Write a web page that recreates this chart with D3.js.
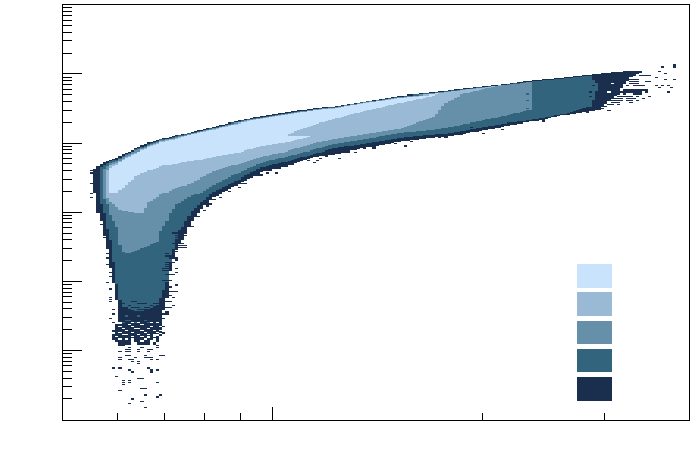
<!DOCTYPE html>
<html>
<head>
<meta charset="utf-8">
<style>html,body{margin:0;padding:0;background:#fff}svg{display:block}</style>
<script src="https://cdnjs.cloudflare.com/ajax/libs/d3/7.8.5/d3.min.js"></script>
</head>
<body>
<svg id="chart" width="696" height="472"></svg>
<script>
// ---- axis values ----
const xDomain = [5, 39.6];
const yDomain = [1, 1e6];
const xMajorTicks = [10];
const xMinorTicks = [6, 7, 8, 9, 20, 30];
const yMajorTicks = [1e1, 1e2, 1e3, 1e4, 1e5];
const yMinorFactors = [2, 3, 4, 5, 6, 7, 8, 9];
const yDecades = [1, 1e1, 1e2, 1e3, 1e4, 1e5];
const binCount = 200;

// ---- contour edges of the 2D histogram, read as bin numbers per x bin ----
const binColumns = [
 10,11,12,13,14,15,17,18,19,21,
 23,25,27,30,31,33,34,36,39,41,
 44,48,52,57,63,71,79,80,86,97,
 108,118,122,127,131,140,149,150,159,168,
 171,176,181,184];
const darkTop = [
 120.3,121.8,123.2,124.2,124.6,125.1,126.1,127,128,129,
 130.4,131.9,133.3,134.3,135.2,135.7,136.2,136.9,137.7,138.6,
 139.6,141,142.5,144.2,145.8,147.8,149.7,150,150.7,153.5,
 156,157.4,158.1,159.2,159.8,161.3,163.2,163.4,164.6,166.1,
 166.6,167.5,168,168];
const darkBottom = [
 109,99.6,95.3,89,81.8,73.1,57.7,47,46,46,
 46,46,46,46,46,58.7,72.1,81.8,89.5,95.3,
 101.5,106.8,110.2,114.5,118.9,121.8,126.1,126.4,127.5,130.9,
 133.8,135.7,136.2,137.2,138.6,141,143.4,143.4,146.3,148.3,
 149.2,156,165,167];
const tealTop = [
 114,114,121.3,122.7,123.7,124.6,125.1,126.1,127,128.5,
 129.9,130.9,132.4,133.8,134.8,135.2,135.7,136.5,137.3,138.2,
 139.2,140.6,142.1,143.8,145.4,147.3,149.2,149.6,150.4,153.3,
 155.7,157.2,157.9,158.8,159.6,161,162.7,162.9,164.1,165.6,
 160,160,160,160];
const tealBottom = [
 114,114,103.4,99.6,91.4,86.6,64.9,57.7,54,52.5,
 52,52,53,55,58.7,65.9,76,86.6,95.3,100.6,
 104.4,109.7,112.6,116.5,121.3,124.2,127.5,127.9,130.4,132.8,
 135.7,137.2,137.7,138.8,140.1,142.5,144,144.4,146.8,150.7,
 160,160,160,160];
const steelTop = [
 114,114,114,120.3,121.8,123.7,124.6,125.6,126.6,128,
 129.5,130.4,131.9,133.3,134.3,134.8,135.2,135.9,137,137.9,
 138.9,140.3,141.8,143.5,145.1,147,149,149.4,150.2,153.1,
 155.5,156.9,157.6,158.6,159.3,160.8,162.5,155,155,155,
 155,155,155,155];
const steelBottom = [
 114,114,114,105.9,103.4,98.6,92.4,84.2,80.3,79.9,
 80.8,82.3,83.7,85.6,90.4,95.3,99.6,103.4,105.9,107.8,
 109.2,113.1,116,119.3,123.7,126.6,129.5,129.9,132.4,135.2,
 138.1,139.6,140.5,142,143.1,145.8,149.2,155,155,155,
 155,155,155,155];
const lightTop = [
 113,113,113,113,119.8,122.7,123.7,124.6,125.6,127,
 128.5,129.9,131.4,132.8,133.8,134.3,134.8,135.5,136.7,137.6,
 138.6,140,141.5,143.2,144.9,146.8,148.7,149.1,149.9,152.8,
 155.2,156.7,157.4,158.4,159.1,161,161,161,161,161,
 161,161,161,161];
const lightBottom = [
 113,113,113,113,106.3,104.4,102.5,101,100.6,100.1,
 99.6,99.6,104.4,106.8,108.3,109.2,110.2,111.6,112.6,114,
 116.5,119.3,121.3,123.7,126.6,129,132.4,133,134.8,137.7,
 140.5,145.4,152.6,156.4,157.9,161,161,161,161,161,
 161,161,161,161];
const paleTop = [
 116,116,116,116,116,120.8,122.7,124.2,125.1,126.6,
 128,129.5,130.9,132.4,133.3,133.8,134.3,135.1,136.4,137.3,
 138.3,139.7,141.2,142.9,144.6,146.6,148.5,148.9,149.7,152.6,
 155,156.4,158,158,158,158,158,158,158,158,
 158,158,158,158];
const paleBottom = [
 116,116,116,116,116,109.2,109.2,110.7,111.6,114.5,
 116.9,118.4,119.8,120.8,121.8,122.7,122.7,123.2,124.2,124.6,
 125.1,126.6,127.5,129,131.4,133.3,136.2,142,144.4,148.9,
 152.6,156,158,158,158,158,158,158,158,158,
 158,158,158,158];
// small light sliver cut into the pale region
const sliverColumns = [71,74,77,80];
const sliverTop = [136.7,138.8,140.4,142];
const sliverBottom = [136.7,136.5,136.4,136];

// ---- isolated occupied bins [xBin, yBin] ----
const tailCells = [
 [18,35],[19,35],[30,35],[21,34],[25,34],[30,34],[20,33],[21,33],[24,33],[27,33],[28,33],
 [18,32],[20,32],[21,32],[24,32],[27,32],[20,30],[21,30],[26,30],[31,30],[32,30],
 [18,29],[23,29],[26,29],[27,29],[28,29],[18,28],[21,28],[22,28],[28,28],[30,28],
 [22,27],[24,27],[24,26],[16,24],[18,24],[27,24],[21,23],[28,23],[30,23],[22,22],[28,22],
 [17,20],[24,19],[25,19],[19,18],[21,18],[19,17],[21,17],[30,17],[19,16],[25,14],[26,14],
 [18,13],[26,11],[31,11],[30,10],[22,9],[25,8],[21,7],[26,5]];
// rows of dense occupied bins under the main body: [yBin, first xBin, last xBin]
const denseRows = [
 [45,17,31],[44,17,31],
 [43,17,31],[42,16,31],[41,17,30],[41,32,32],[40,16,28],[40,31,31],[39,16,26],[39,28,30],
 [38,16,21],[38,23,24],[38,25,28],[38,30,30],[37,17,21],[37,23,24],[37,26,27],[37,30,30],
 [36,18,21],[36,24,25],[36,26,27],[36,29,29]];
// thin rows of occupied bins along the edges of the distribution
const sparseRows = [
 [90,37,39],[89,36,39],[86,36,38],[84,35,38],[83,36,39],[81,35,36],[80,35,36],[78,33,35],
 [77,34,36],[75,33,35],[73,33,34],[71,32,34],[69,33,35],[66,32,34],[63,33,34],[61,33,36],
 [59,33,34],[56,32,33],[53,32,34],[50,31,33],[48,31,32],
 [56,22,23],[55,18,19],[55,25,26],[55,29,30],[53,19,19],[53,22,24],[53,26,27],[52,20,21],
 [52,24,26],[51,20,20],[51,25,27],[49,21,23],[49,26,29],
 [113,57,58],[116,58,60],[117,61,63],[119,64,66],[120,64,65],[103,46,47],[108,49,49],[112,55,55],
 [165,180,182],[165,184,187],[163,181,184],[162,181,183],[162,186,187],[161,181,183],[160,180,184],
 [158,179,183],[158,184,186],[157,177,180],[157,181,184],[156,177,179],[156,182,184],[155,177,181],
 [154,175,177],[154,180,182],[153,173,177],[153,178,181],[152,173,177],[151,174,175]];
const edgeCells = [
 [9,119],[9,118],[9,113],[9,108],[9,106],[12,97],[12,93],[13,88],[13,87],[14,79],[14,77],[14,74],
 [15,70],[15,68],[14,65],[15,62],[15,58],[15,57],[15,56],[16,52],[16,50],[15,48],[16,46],
 [35,89],[36,88],[37,88],[36,87],[37,87],[38,87],[36,85],[37,85],[37,83],[38,83],[37,82],[38,82],[39,82],
 [38,88],[39,88],[40,92],[41,92],[40,94],[42,97],[43,97],[42,98],[45,100],[46,102],[48,105],[50,106],
 [52,110],[53,109],[56,111],[36,81],[35,79],[33,79],[36,76],[33,74],[34,74],[36,72],[32,72],[33,72],
 [36,70],[34,66],[36,64],[35,61],[36,61],[35,58],[34,56],[35,54],[33,51],[32,44],[31,41],
 [61,118],[65,118],[68,118],[62,117],[67,120],[69,120],[71,121],[73,122],[78,124],[80,123],[81,124],
 [82,125],[84,126],[85,127],[88,125],[91,128],[93,128],[96,130],[99,131],[99,130],[104,132],[106,132],
 [109,131],[111,133],[113,134],[117,135],[120,135],[122,135],[134,137],[131,138],[132,138],[130,140],
 [140,139],[139,140],[142,142],[145,142],[153,144],[153,143],[165,147],[167,147],[174,148],[172,149],
 [177,151],[181,152],[183,153],[185,154],[187,155],[183,155],[182,156],[193,157],[190,159],[194,159],
 [189,160],[191,160],[193,160],[192,163],[195,163],[189,164],[192,166],[190,167],[191,169],[195,170],
 [195,169],[186,162],[185,160],[184,158],[185,158],[186,157],[180,157],[178,154],[175,152],
 [169,160],[168,157],[170,157],[171,160],[172,162],[168,155],[172,165],[170,153],[173,150],[170,150],
 [20,53],[21,54],[24,55],[26,53],[28,54],[19,51],[22,51],[25,52],[27,52],[30,54]];
const tealSpeckCells = [[148,156],[148,153],[148,149],[20,47],[21,47],[23,46],[26,47],[27,46],[19,46],[20,49],[24,49]];
// unoccupied gaps inside the dense rows and the tip of the distribution
const emptyCells = [
 [22,46],[24,46],[17,46],[28,46],[30,46],[21,45],[25,45],[18,44],[22,44],[28,44],[31,44],
 [19,43],[23,43],[24,43],[27,43],[20,42],[25,42],[29,42],[31,42],[18,41],[22,41],[26,41],[30,41],
 [19,40],[20,40],[24,40],[27,40],[17,39],[22,39],[25,39],[29,39],[18,38],[20,38],[26,38],
 [175,161],[174,157],[178,156],[179,153],[181,164],[183,159],[181,160],[174,152],[180,161],[184,163]];

// ---- legend colours ----
const levelColors = ["#c9e3fd", "#9ab9d5", "#668fa9", "#33647e", "#1a2f4d"];

const width = 696, height = 472;
const plot = {left: 62, right: 689, top: 4, bottom: 420};
const svg = d3.select("#chart");

const x = d3.scaleLog().domain(xDomain).range([plot.left, plot.right]);
const y = d3.scaleLog().domain(yDomain).range([419.2, 4.2]);
const xOfBin = i => xDomain[0] * Math.pow(xDomain[1] / xDomain[0], i / binCount);
const yOfBin = j => yDomain[0] * Math.pow(yDomain[1] / yDomain[0], j / binCount);
const snap = v => Math.round(v * 2) / 2;

const plotG = svg.append("g").attr("shape-rendering", "crispEdges");

// contour bands, outermost first
const bands = [
 {top: darkTop,  bottom: darkBottom,  color: levelColors[4], cols: binColumns},
 {top: tealTop,  bottom: tealBottom,  color: levelColors[3], cols: binColumns},
 {top: steelTop, bottom: steelBottom, color: levelColors[2], cols: binColumns},
 {top: lightTop, bottom: lightBottom, color: levelColors[1], cols: binColumns},
 {top: paleTop,  bottom: paleBottom,  color: levelColors[0], cols: binColumns},
 {top: sliverTop, bottom: sliverBottom, color: levelColors[1], cols: sliverColumns}
];
function drawBand(b) {
  const hi = d3.scaleLinear().domain(b.cols).range(b.top);
  const lo = d3.scaleLinear().domain(b.cols).range(b.bottom);
  const cells = d3.range(b.cols[0], b.cols[b.cols.length - 1] + 1)
    .map(i => ({i, hi: snap(hi(i)), lo: snap(lo(i))}))
    .filter(d => d.hi > d.lo);
  plotG.append("g").attr("fill", b.color).selectAll("rect").data(cells).join("rect")
    .attr("x", d => x(xOfBin(d.i)))
    .attr("width", d => x(xOfBin(d.i + 1)) - x(xOfBin(d.i)))
    .attr("y", d => y(yOfBin(d.hi)))
    .attr("height", d => y(yOfBin(d.lo)) - y(yOfBin(d.hi)));
}
function drawCells(cells, color, relHeight) {
  plotG.append("g").attr("fill", color).selectAll("rect").data(cells).join("rect")
    .attr("x", d => x(xOfBin(d[0])))
    .attr("width", d => x(xOfBin(d[0] + 1)) - x(xOfBin(d[0])))
    .attr("y", d => y(yOfBin(d[1] + 1)))
    .attr("height", d => (y(yOfBin(d[1])) - y(yOfBin(d[1] + 1))) * relHeight);
}
bands.forEach(drawBand);

const rowCells = rows => rows.flatMap(r => d3.range(r[1], r[2] + 1).map(i => [i, r[0]]));
drawCells(rowCells(denseRows), levelColors[4], 1);
drawCells(tealSpeckCells, levelColors[3], 0.6);
drawCells(tailCells, levelColors[4], 0.6);
drawCells(rowCells(sparseRows), levelColors[4], 0.6);
drawCells(edgeCells, levelColors[4], 0.6);
drawCells(emptyCells, "#ffffff", 0.6);

// legend swatches
const legendY = d3.scaleLinear().domain([0, levelColors.length - 1]).range([264, 377]);
plotG.append("g").selectAll("rect").data(levelColors).join("rect")
  .attr("x", 577).attr("width", 35)
  .attr("y", (d, i) => legendY(i)).attr("height", 23.6)
  .attr("fill", d => d);

// axes (no labels in the picture)
const tickStyle = g => { g.select(".domain").remove(); g.selectAll("line").attr("stroke", "#000").attr("stroke-width", 1); g.selectAll("text").remove(); };
const axisG = svg.append("g").attr("shape-rendering", "crispEdges");
axisG.append("g").attr("transform", `translate(0,${plot.bottom})`)
  .call(d3.axisBottom(x).tickValues(xMinorTicks).tickSizeInner(-7).tickSizeOuter(0).tickFormat("").offset(0.07)).call(tickStyle);
axisG.append("g").attr("transform", `translate(0,${plot.bottom})`)
  .call(d3.axisBottom(x).tickValues(xMajorTicks).tickSizeInner(-13).tickSizeOuter(0).tickFormat("").offset(0.07)).call(tickStyle);
const yMinor = yDecades.flatMap(d => yMinorFactors.map(f => d * f));
axisG.append("g").attr("transform", `translate(${plot.left},0)`)
  .call(d3.axisLeft(y).tickValues(yMinor).tickSizeInner(-10).tickSizeOuter(0).tickFormat("")).call(tickStyle);
axisG.append("g").attr("transform", `translate(${plot.left},0)`)
  .call(d3.axisLeft(y).tickValues(yMajorTicks).tickSizeInner(-20).tickSizeOuter(0).tickFormat("")).call(tickStyle);
axisG.append("rect")
  .attr("x", plot.left + 0.5).attr("y", plot.top + 0.5)
  .attr("width", plot.right - plot.left).attr("height", plot.bottom - plot.top)
  .attr("fill", "none").attr("stroke", "#000").attr("stroke-width", 1);
</script>
</body>
</html>
